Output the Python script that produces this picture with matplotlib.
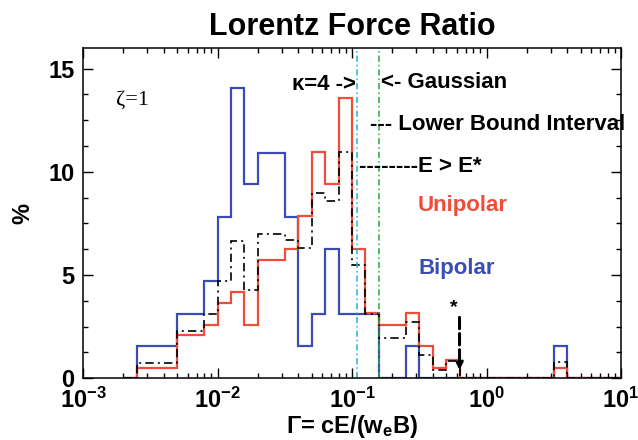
import numpy as np
import matplotlib
matplotlib.use("Agg")
import matplotlib.pyplot as plt
from matplotlib.ticker import MultipleLocator, LogLocator, NullFormatter

plt.rcParams['font.family'] = ['Liberation Sans', 'DejaVu Sans']
plt.rcParams['font.weight'] = 'bold'
plt.rcParams['axes.labelweight'] = 'bold'
plt.rcParams['mathtext.fontset'] = 'custom'
plt.rcParams['mathtext.rm'] = 'Liberation Sans:bold'
plt.rcParams['mathtext.it'] = 'Liberation Sans:bold'
plt.rcParams['mathtext.bf'] = 'Liberation Sans:bold'

# histogram bins: log10(Gamma) from -2.7 to 1.0 in steps of 0.1
log_start = -2.7
log_width = 0.1

# percent per bin
bipolar = [0,
           1.55, 1.55, 1.55, 3.1, 3.1, 4.7, 7.8, 14.05, 9.4, 10.9, 10.9, 7.8,
           1.55, 3.1, 6.25, 3.1, 3.1, 3.1, 0, 0, 1.55, 0, 0, 0,
           0, 0, 0, 0, 0, 0, 0, 1.55,
           0, 0, 0, 0]
unipolar = [0,
            0.52, 0.52, 0.52, 2.1, 2.1, 2.6, 3.66, 4.19, 2.6, 5.75, 5.75, 6.28,
            7.85, 10.95, 9.4, 13.6, 6.28, 3.14, 2.6, 2.6, 3.14, 1.57, 0.52, 0.9,
            0, 0, 0, 0, 0, 0, 0, 0.52,
            0, 0, 0, 0]
combined = [0,
            0.75, 0.75, 0.75, 2.3, 2.3, 3.1, 4.7, 6.65, 4.3, 7.0, 7.0, 6.7,
            6.3, 9.0, 8.6, 10.95, 5.5, 3.1, 1.95, 1.95, 2.75, 1.15, 0.4, 0.85,
            0, 0, 0, 0, 0, 0, 0, 0.8,
            0, 0, 0, 0]

kappa4_gamma = 0.109
gauss_gamma = 0.16
star_gamma = 0.63

edges = 10 ** (log_start + log_width * np.arange(len(bipolar) + 1))

red = '#ef4c3a'
blue = '#3a4db5'

fig = plt.figure(figsize=(6.38, 4.4), dpi=100)
ax = fig.add_axes([83/638, 61.7/440, 538/638, 330.3/440])

ax.axvline(kappa4_gamma, color='#1fb4d8', lw=1.1, dashes=(4, 2, 1, 2))
ax.axvline(gauss_gamma, color='#1faa3c', lw=1.1, dashes=(4, 2, 1, 2))

ax.stairs(bipolar, edges, color=blue, lw=1.6)
ax.stairs(unipolar, edges, color=red, lw=1.6)
ax.stairs(combined, edges, color='black', lw=1.2, linestyle=(0, (5, 2.5, 1.2, 2.5)))

ax.set_xscale('log')
ax.set_xlim(1e-3, 1e1)
ax.set_ylim(0, 16)
ax.yaxis.set_major_locator(MultipleLocator(5))
ax.yaxis.set_minor_locator(MultipleLocator(1.25))
ax.xaxis.set_major_locator(LogLocator(base=10))
ax.xaxis.set_minor_locator(LogLocator(base=10, subs=np.arange(2, 10)))
ax.xaxis.set_minor_formatter(NullFormatter())

ax.tick_params(which='both', direction='in', top=True, right=True, width=1.0)
ax.tick_params(which='major', length=7.5, labelsize=17)
ax.tick_params(which='minor', length=3.8)
ax.tick_params(axis='x', pad=7)
ax.tick_params(axis='y', pad=6)
for s in ax.spines.values():
    s.set_linewidth(1.1)

ax.set_title('Lorentz Force Ratio', fontsize=22, fontweight='bold', pad=9)
ax.set_xlabel(r'Γ= cE/(w$_e$B)', fontsize=17, labelpad=0)
ax.set_ylabel('%', fontsize=17, labelpad=10)

ax.text(0.00176, 13.45, 'ζ=1', family='Liberation Serif', fontweight='normal',
        fontsize=16, va='center', ha='left')
ax.text(kappa4_gamma * 0.985, 14.24, 'κ=4 ->', fontsize=16, va='center', ha='right')
ax.text(gauss_gamma * 1.02, 14.35, '<- Gaussian', fontsize=16, va='center', ha='left')
ax.text(0.136, 12.3, '--- Lower Bound Interval', fontsize=16, va='center', ha='left',
        clip_on=False)
ax.text(0.112, 10.24, '--------E > E*', fontsize=16, va='center', ha='left')
ax.text(0.31, 8.39, 'Unipolar', fontsize=16, va='center', ha='left', color=red)
ax.text(0.31, 5.34, 'Bipolar', fontsize=16, va='center', ha='left', color=blue)
ax.text(star_gamma * 0.9, 3.45, '*', fontsize=14, va='center', ha='center')
ax.annotate('', xy=(star_gamma, 0.4), xytext=(star_gamma, 2.95),
            arrowprops=dict(arrowstyle='->', color='black', lw=2.2, ls='--',
                            shrinkA=0, shrinkB=0))

fig.savefig('out.png', dpi=100)
